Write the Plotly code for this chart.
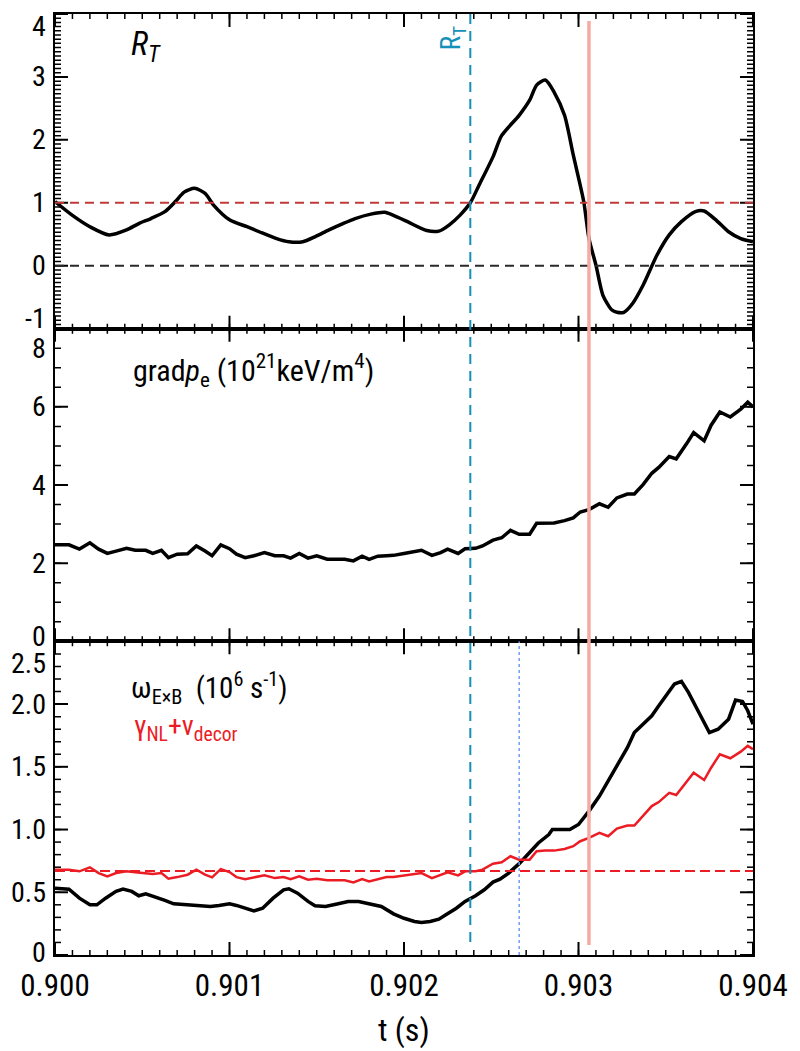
import plotly.graph_objects as go

# ---------------- data ----------------
# Panel 1: R_T (smooth curve)
t_rt = [0.90000, 0.90010, 0.90020, 0.90031, 0.90041, 0.90048, 0.90055, 0.90063, 0.90069, 0.90074,
        0.90080, 0.90086, 0.90091, 0.90100, 0.90110, 0.90117, 0.90127, 0.90134, 0.90142, 0.90149,
        0.90157, 0.90165, 0.90172, 0.90181, 0.90189, 0.90194, 0.90202, 0.90213, 0.90220, 0.90226,
        0.90232, 0.90238, 0.90243, 0.90251, 0.90256, 0.90266, 0.90272, 0.90276, 0.90281, 0.90286,
        0.90292, 0.90297, 0.90303, 0.90306, 0.90310, 0.90314, 0.90319, 0.90322, 0.90326, 0.90331,
        0.90337, 0.90345, 0.90352, 0.90359, 0.90367, 0.90372, 0.90379, 0.90386, 0.90393, 0.90400]
rt = [1.02, 0.80, 0.62, 0.49, 0.57, 0.67, 0.75, 0.86, 1.02, 1.17,
      1.23, 1.15, 0.96, 0.73, 0.62, 0.54, 0.43, 0.38, 0.38, 0.46,
      0.57, 0.67, 0.75, 0.82, 0.85, 0.80, 0.70, 0.56, 0.55, 0.65,
      0.80, 1.00, 1.28, 1.73, 2.07, 2.39, 2.63, 2.87, 2.95, 2.76,
      2.39, 1.76, 1.02, 0.43, 0.01, -0.47, -0.70, -0.74, -0.74, -0.60,
      -0.31, 0.17, 0.49, 0.70, 0.86, 0.87, 0.72, 0.54, 0.43, 0.38]

# Time base of the jagged series (grad pe and gamma_NL + nu_decor)
t_fast = [0.90000, 0.90008, 0.90014, 0.90020, 0.90025, 0.90030, 0.90035, 0.90041, 0.90046, 0.90052,
          0.90056, 0.90061, 0.90065, 0.90070, 0.90076, 0.90081, 0.90086, 0.90090, 0.90095, 0.90100,
          0.90104, 0.90109, 0.90114, 0.90120, 0.90126, 0.90131, 0.90135, 0.90140, 0.90145, 0.90150,
          0.90156, 0.90161, 0.90166, 0.90171, 0.90176, 0.90180, 0.90185, 0.90190,
          0.90194, 0.90200, 0.90206, 0.90210, 0.90216, 0.90221, 0.90225, 0.90231, 0.90235, 0.90241,
          0.90245, 0.90251, 0.90256, 0.90261, 0.90266, 0.90272, 0.90276, 0.90281, 0.90286, 0.90292,
          0.90297, 0.90301, 0.90306, 0.90312, 0.90317, 0.90322, 0.90328, 0.90332, 0.90337, 0.90342,
          0.90346, 0.90352, 0.90356, 0.90362, 0.90366, 0.90372, 0.90376, 0.90381, 0.90387, 0.90393,
          0.90397, 0.90400]

# Panel 2: grad p_e (10^21 keV/m^4)
gradpe = [2.47, 2.47, 2.36, 2.52, 2.36, 2.25, 2.31, 2.38, 2.33, 2.33,
          2.25, 2.33, 2.14, 2.23, 2.24, 2.44, 2.31, 2.19, 2.47, 2.37,
          2.23, 2.14, 2.19, 2.27, 2.19, 2.19, 2.13, 2.25, 2.13, 2.19,
          2.10, 2.10, 2.10, 2.06, 2.18, 2.10, 2.18, 2.19,
          2.20, 2.25, 2.31, 2.33, 2.20, 2.27, 2.36, 2.25, 2.37, 2.38,
          2.44, 2.59, 2.65, 2.84, 2.74, 2.74, 3.02, 3.03, 3.03, 3.09,
          3.16, 3.31, 3.37, 3.52, 3.43, 3.67, 3.77, 3.77, 4.01, 4.30,
          4.45, 4.73, 4.67, 5.06, 5.34, 5.13, 5.53, 5.87, 5.74, 5.94,
          6.12, 6.00]

# Panel 3: gamma_NL + nu_decor (red), 10^6 s^-1
gamma_nu = [0.680, 0.680, 0.667, 0.699, 0.653, 0.627, 0.653, 0.667, 0.659, 0.653,
            0.645, 0.653, 0.608, 0.621, 0.640, 0.680, 0.640, 0.619, 0.685, 0.661,
            0.621, 0.605, 0.621, 0.635, 0.613, 0.621, 0.605, 0.627, 0.600, 0.608,
            0.595, 0.595, 0.595, 0.579, 0.605, 0.587, 0.605, 0.621,
            0.621, 0.635, 0.648, 0.653, 0.613, 0.640, 0.659, 0.635, 0.667, 0.667,
            0.680, 0.728, 0.739, 0.787, 0.760, 0.760, 0.827, 0.832, 0.832, 0.845,
            0.867, 0.907, 0.933, 0.973, 0.947, 1.008, 1.032, 1.032, 1.107, 1.187,
            1.219, 1.293, 1.275, 1.387, 1.453, 1.395, 1.493, 1.600, 1.568, 1.621,
            1.667, 1.640]

# Panel 3: omega_ExB (black), 10^6 s^-1
t_w = [0.90000, 0.90008, 0.90014, 0.90020, 0.90024, 0.90029, 0.90035, 0.90039, 0.90044, 0.90048,
       0.90052, 0.90057, 0.90063, 0.90068, 0.90074, 0.90082, 0.90089, 0.90094, 0.90100, 0.90104,
       0.90109, 0.90114, 0.90119, 0.90125, 0.90131, 0.90134, 0.90139, 0.90145, 0.90149, 0.90155,
       0.90161, 0.90168, 0.90174, 0.90179, 0.90187,
       0.90194, 0.90200, 0.90206, 0.90210, 0.90215, 0.90220, 0.90224, 0.90230, 0.90235, 0.90241,
       0.90246, 0.90251, 0.90255, 0.90260, 0.90266, 0.90272, 0.90277, 0.90283, 0.90285, 0.90290,
       0.90295, 0.90300, 0.90303, 0.90306, 0.90312, 0.90317, 0.90323, 0.90328, 0.90332, 0.90337,
       0.90342, 0.90346, 0.90351, 0.90355, 0.90359, 0.90363, 0.90369, 0.90375, 0.90380, 0.90386,
       0.90390, 0.90394, 0.90397, 0.90400]
w_exb = [0.533, 0.525, 0.453, 0.400, 0.400, 0.453, 0.507, 0.525, 0.507, 0.472,
         0.488, 0.467, 0.435, 0.408, 0.400, 0.392, 0.387, 0.395, 0.408, 0.395,
         0.373, 0.352, 0.373, 0.453, 0.520, 0.528, 0.493, 0.427, 0.392, 0.387,
         0.405, 0.427, 0.427, 0.413, 0.387,
         0.328, 0.293, 0.267, 0.259, 0.267, 0.285, 0.320, 0.373, 0.427, 0.472,
         0.520, 0.581, 0.605, 0.653, 0.728, 0.813, 0.893, 0.960, 1.000, 1.000,
         1.000, 1.040, 1.093, 1.147, 1.267, 1.387, 1.520, 1.653, 1.773, 1.840,
         1.907, 1.987, 2.080, 2.160, 2.181, 2.093, 1.933, 1.773, 1.800, 1.880,
         2.032, 2.021, 1.947, 1.840]

# reference levels / marker times
rt_levels = [1.0, 0.0]
gamma_level = 0.67
t_rt_cross = 0.90238
t_blue = 0.90266
t_pink = 0.90306

# tick labels (y labels are placed as annotations so the edge ones can be nudged inward)
x_ticks = [0.900, 0.901, 0.902, 0.903, 0.904]
y1_ticks = [4, 3, 2, 1, 0, -1]
y2_ticks = [8, 6, 4, 2, 0]
y3_ticks = [2.5, 2.0, 1.5, 1.0, 0.5, 0]
y3_labels = ["2.5", "2.0", "1.5", "1.0", "0.5", "0"]

# ---------------- figure ----------------
FONT = "Liberation Sans Narrow, Arial Narrow, Roboto Condensed, DejaVu Sans Condensed, sans-serif"
W, H = 800, 1051
ML, MR, MT, MB = 55, 35, 13, 96
XR = [0.900, 0.904]
panels = [  # (xref, yref, y-range, major step, minor step)
    ("x", "y", [-1, 4], 1.0, 1 / 15),
    ("x2", "y2", [0, 8], 2.0, 0.5),
    ("x3", "y3", [0, 2.5], 0.5, 0.1),
]

fig = go.Figure()
fig.add_trace(go.Scatter(x=t_rt, y=rt, mode="lines",
                         line=dict(color="black", width=3.5, shape="spline", smoothing=0.7),
                         xaxis="x", yaxis="y", showlegend=False))
fig.add_trace(go.Scatter(x=t_fast, y=gradpe, mode="lines",
                         line=dict(color="black", width=3.5),
                         xaxis="x2", yaxis="y2", showlegend=False))
fig.add_trace(go.Scatter(x=t_w, y=w_exb, mode="lines",
                         line=dict(color="black", width=3.5),
                         xaxis="x3", yaxis="y3", showlegend=False))
fig.add_trace(go.Scatter(x=t_fast, y=gamma_nu, mode="lines",
                         line=dict(color="#ec1c24", width=2.5),
                         xaxis="x3", yaxis="y3", showlegend=False))

base = dict(showline=True, linewidth=2, linecolor="black", mirror=True,
            showgrid=False, zeroline=False)

d1 = [0.6656, 1.0]
d2 = [0.3333, 0.6656]
d3 = [0.0, 0.3333]

fig.update_layout(
    width=W, height=H,
    margin=dict(l=ML, r=MR, t=MT, b=MB),
    paper_bgcolor="white", plot_bgcolor="white",
    font=dict(family=FONT, color="black"),
    xaxis=dict(base, anchor="y", range=XR, showticklabels=False),
    xaxis2=dict(base, anchor="y2", range=XR, showticklabels=False),
    xaxis3=dict(base, anchor="y3", range=XR, tickmode="array", tickvals=x_ticks,
                showticklabels=True, tickformat=".3f",
                tickfont=dict(size=31, family=FONT, color="black"), ticklabelstandoff=2),
    yaxis=dict(base, domain=d1, anchor="x", range=panels[0][2], showticklabels=False),
    yaxis2=dict(base, domain=d2, anchor="x2", range=panels[1][2], showticklabels=False),
    yaxis3=dict(base, domain=d3, anchor="x3", range=panels[2][2], showticklabels=False),
)

shapes = []
# inward tick marks on all four sides of every panel (pixel-length, anchored in data coords)
x_minor = [XR[0] + k * 0.0001 for k in range(41)]
for xref, yref, yr, major, minor in panels:
    for vals, L, wdt in ((x_minor, 5, 1.5), (x_ticks, 13, 2)):
        for t in vals:
            shapes.append(dict(type="line", xref=xref, yref=yref, x0=t, x1=t,
                               ysizemode="pixel", yanchor=yr[0], y0=0, y1=L,
                               line=dict(color="black", width=wdt), layer="above"))
            shapes.append(dict(type="line", xref=xref, yref=yref, x0=t, x1=t,
                               ysizemode="pixel", yanchor=yr[1], y0=-L, y1=0,
                               line=dict(color="black", width=wdt), layer="above"))
    n_minor = int(round((yr[1] - yr[0]) / minor))
    n_major = int(round((yr[1] - yr[0]) / major))
    y_minor = [yr[0] + k * minor for k in range(n_minor + 1)]
    y_major = [yr[0] + k * major for k in range(n_major + 1)]
    for vals, L, wdt in ((y_minor, 6, 1.5), (y_major, 13, 2)):
        for v in vals:
            shapes.append(dict(type="line", xref=xref, yref=yref, y0=v, y1=v,
                               xsizemode="pixel", xanchor=XR[0], x0=0, x1=L,
                               line=dict(color="black", width=wdt), layer="above"))
            shapes.append(dict(type="line", xref=xref, yref=yref, y0=v, y1=v,
                               xsizemode="pixel", xanchor=XR[1], x0=-L, x1=0,
                               line=dict(color="black", width=wdt), layer="above"))

# horizontal reference lines
shapes.append(dict(type="line", xref="x", yref="y", x0=XR[0], x1=XR[1], y0=rt_levels[0], y1=rt_levels[0],
                   line=dict(color="#c0393b", width=2, dash="9px,6px"), layer="above"))
shapes.append(dict(type="line", xref="x", yref="y", x0=XR[0], x1=XR[1], y0=rt_levels[1], y1=rt_levels[1],
                   line=dict(color="#2a2a2a", width=2, dash="9px,6px"), layer="above"))
shapes.append(dict(type="line", xref="x3", yref="y3", x0=XR[0], x1=XR[1], y0=gamma_level, y1=gamma_level,
                   line=dict(color="#ec1c24", width=2, dash="10px,5px"), layer="above"))
# vertical markers
shapes.append(dict(type="line", xref="x", yref="paper", x0=t_rt_cross, x1=t_rt_cross, y0=0.0138, y1=1.0,
                   line=dict(color="#1590b8", width=2, dash="10px,7px"), layer="above"))
shapes.append(dict(type="line", xref="x3", yref="y3", x0=t_blue, x1=t_blue, y0=0, y1=2.5,
                   line=dict(color="#6f9cf0", width=1.5, dash="dot"), layer="above"))
shapes.append(dict(type="line", xref="x", yref="paper", x0=t_pink, x1=t_pink, y0=0.0106, y1=0.9926,
                   line=dict(color="#f5aaa4", width=3.5), layer="above"))
fig.update_layout(shapes=shapes)

ann = []


def ylabels(vals, texts, yref, shifts):
    for v, s, sh in zip(vals, texts, shifts):
        ann.append(dict(x=0, xref="paper", xanchor="right", xshift=-7,
                        y=v, yref=yref, yanchor="middle", yshift=sh,
                        text=s, showarrow=False, font=dict(size=28, family=FONT, color="black")))


ylabels(y1_ticks, [str(v) for v in y1_ticks], "y", [-12, 0, 0, 0, 0, 10])
ylabels(y2_ticks, [str(v) for v in y2_ticks], "y2", [-20, 0, 0, 0, 5])
ylabels(y3_ticks, y3_labels, "y3", [-22, 0, 0, 0, 0, 3])

# panel annotations
ann.append(dict(x=0.1056, y=0.966, xref="paper", yref="paper", xanchor="left", yanchor="middle",
                text="<i>R<sub>T</sub></i>", showarrow=False,
                font=dict(size=33, family=FONT, color="black")))
ann.append(dict(x=0.1085, y=0.621, xref="paper", yref="paper", xanchor="left", yanchor="middle",
                text="grad<i>p</i><sub>e</sub> (10<sup>21</sup>keV/m<sup>4</sup>)", showarrow=False,
                font=dict(size=30, family=FONT, color="black")))
ann.append(dict(x=0.1056, y=0.2834, xref="paper", yref="paper", xanchor="left", yanchor="middle",
                text="ω<sub>E×B</sub>\u00a0 (10<sup>6</sup> s<sup>-1</sup>)", showarrow=False,
                font=dict(size=29, family=FONT, color="black")))
ann.append(dict(x=0.11, y=0.242, xref="paper", yref="paper", xanchor="left", yanchor="middle",
                text="γ<sub>NL</sub>+ν<sub>decor</sub>", showarrow=False,
                font=dict(size=28, family=FONT, color="#ec1c24")))
ann.append(dict(x=0.5704, y=0.9745, xref="paper", yref="paper", xanchor="center", yanchor="middle",
                text="R<sub>T</sub>", textangle=-90, showarrow=False,
                font=dict(size=27, family=FONT, color="#1590b8")))
# x axis title
ann.append(dict(x=0.5, y=-0.0796, xref="paper", yref="paper", xanchor="center", yanchor="middle",
                text="t (s)", showarrow=False, font=dict(size=32, family=FONT, color="black")))

fig.update_layout(annotations=ann)
fig.write_html("out.html")
